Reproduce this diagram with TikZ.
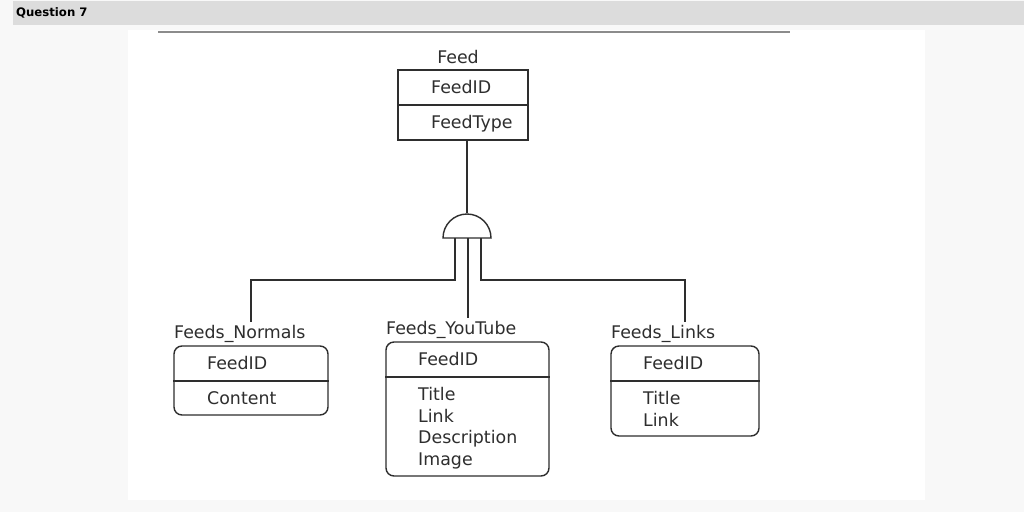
\documentclass[tikz,border=0pt]{standalone}
\usepackage{fontspec}
\setmainfont{DejaVu Sans}
\definecolor{pagebg}{HTML}{F8F8F8}
\definecolor{headbg}{HTML}{DCDCDC}
\definecolor{rulecol}{HTML}{8C8C8C}
\definecolor{ink}{HTML}{2E2E2E}
\begin{document}
\begin{tikzpicture}[x=1pt,y=-1pt,
  lbl/.style={anchor=base west,inner sep=0pt,text=ink,font=\fontsize{17.4}{19}\selectfont},
  box/.style={draw=ink,line width=1.4pt,inner sep=0pt},
  rbox/.style={box,rounded corners=8pt},
  conn/.style={draw=ink,line width=1.5pt}]
\useasboundingbox (0,0) rectangle (1024,512);
\fill[pagebg] (0,0) rectangle (1024,512);
\fill[headbg] (13,1) rectangle (1024,25);
\node[anchor=west,inner sep=0pt,font=\bfseries\fontsize{11.7}{12}\selectfont] (q) at (16,13) {Question 7};
\fill[white] (128,30) rectangle (925,500);
\draw[rulecol,line width=1.6pt] (158,32) -- (790,32);

% Feed
\node[lbl,anchor=base] (feedt) at (458,63) {Feed};
\node[box,minimum width=130pt,minimum height=70pt] (feed) at (463,105) {};
\draw[ink,line width=1.4pt] (feed.west |- 0,105) -- (feed.east |- 0,105);
\node[lbl] (f1) at (431,93.5) {FeedID};
\node[lbl] (f2) at (431,128.5) {FeedType};

% semicircle
\coordinate (ftop) at (467,140);
\coordinate (stop) at (467,213);
\draw[ink,line width=1.4pt] (443,238) arc (180:360:24) -- cycle;
\coordinate (sl) at (455,238);
\coordinate (sc) at (468,238);
\coordinate (sr) at (481,238);
\draw[conn] (ftop) -- (stop);

% Feeds_Normals
\node[lbl] (nt) at (174,338) {Feeds\_Normals};
\node[rbox,minimum width=154pt,minimum height=69pt] (norm) at (251,380.5) {};
\draw[ink,line width=1.4pt] (norm.west |- 0,381) -- (norm.east |- 0,381);
\node[lbl] (n1) at (207,369.5) {FeedID};
\node[lbl] (n2) at (207,404.5) {Content};

% Feeds_YouTube
\node[lbl] (yt) at (386,334.5) {Feeds\_YouTube};
\node[rbox,minimum width=163pt,minimum height=134pt] (yt box) at (467.5,409) {};
\draw[ink,line width=1.4pt] (yt box.west |- 0,377) -- (yt box.east |- 0,377);
\node[lbl] (y1) at (418,365) {FeedID};
\node[lbl] (y2) at (418,400.5) {Title};
\node[lbl] (y3) at (418,422) {Link};
\node[lbl] (y4) at (418,443.5) {Description};
\node[lbl] (y5) at (418,465) {Image};

% Feeds_Links
\node[lbl] (lt) at (611,338) {Feeds\_Links};
\node[rbox,minimum width=148pt,minimum height=90pt] (links) at (685,391) {};
\draw[ink,line width=1.4pt] (links.west |- 0,381) -- (links.east |- 0,381);
\node[lbl] (l1) at (643,369.5) {FeedID};
\node[lbl] (l2) at (643,404.5) {Title};
\node[lbl] (l3) at (643,426) {Link};

% connectors
\coordinate (ne) at (251,322);
\coordinate (ye) at (468,318);
\coordinate (le) at (685,322);
\draw[conn] (sl) -- (455,280) -- (251,280) -- (ne);
\draw[conn] (sc) -- (ye);
\draw[conn] (sr) -- (481,280) -- (685,280) -- (le);
\end{tikzpicture}
\end{document}
